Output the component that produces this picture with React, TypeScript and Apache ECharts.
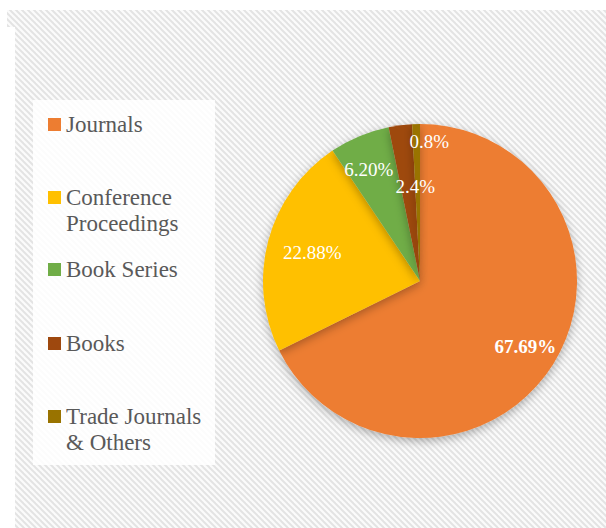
import React, { useEffect, useRef } from "react";
import * as echarts from "echarts";

const categories = ["Journals", "Conference Proceedings", "Book Series", "Books", "Trade Journals & Others"];
const legendTexts = ["Journals", "\nConference\nProceedings", "Book Series", "Books", "\nTrade Journals\n& Others"];
const values = [67.69, 22.88, 6.2, 2.4, 0.8];
const labelTexts = ["67.69%", "22.88%", "6.20%", "2.4%", "0.8%"];
const colors = ["#ED7D31", "#FFC000", "#70AD47", "#9E480E", "#997300"];
const labelRadius = [0.79, 0.71, 0.78, 0.6, 0.89];
const labelAngleShift = [0, 0, -2, 4.3, 5.2];
const labelBold = [true, false, false, false, false];
const legendIconTops = [118, 191, 263, 337, 410];

const CX = 420;
const CY = 281;
const R = 157;
const FONT = "Liberation Serif, DejaVu Serif, serif";

function makePattern(): string {
  const c = document.createElement("canvas");
  const s = 6;
  c.width = s;
  c.height = s;
  const ctx = c.getContext("2d")!;
  ctx.fillStyle = "#fbfbfb";
  ctx.fillRect(0, 0, s, s);
  ctx.strokeStyle = "#e3e3e3";
  ctx.lineWidth = 2;
  for (const off of [-s, 0, s]) {
    ctx.beginPath();
    ctx.moveTo(-1 + off, -1);
    ctx.lineTo(s + 1 + off, s + 1);
    ctx.stroke();
  }
  return c.toDataURL();
}

export default function App() {
  const ref = useRef<HTMLDivElement>(null);
  useEffect(() => {
    if (!ref.current) return;
    const chart = echarts.init(ref.current, undefined, { renderer: "svg" });
    const pattern = makePattern();
    const total = values.reduce((a, b) => a + b, 0);
    let acc = 0;
    const mids = values.map((v) => {
      const m = ((acc + v / 2) / total) * 360;
      acc += v;
      return m;
    });

    const legends = categories.map((name, i) => {
      const lines = legendTexts[i].split("\n").length;
      const top = legendIconTops[i] + 6.5 - (lines * 26) / 2;
      return {
        data: [name],
        orient: "vertical" as const,
        left: 48,
        top,
        padding: 0,
        icon: "rect",
        itemWidth: 13,
        itemHeight: 13,
        selectedMode: false,
        formatter: () => legendTexts[i],
        textStyle: {
          fontFamily: FONT,
          fontSize: 23,
          lineHeight: 26,
          color: "#595959",
        },
      };
    });

    chart.setOption({
      animation: false,
      color: colors,
      graphic: [
        {
          type: "rect",
          z: -10,
          silent: true,
          shape: { x: 15, y: 10, width: 591, height: 518 },
          style: { fill: { image: pattern, repeat: "repeat" } as any },
        },
        {
          type: "rect",
          z: -10,
          silent: true,
          shape: { x: 7, y: 10, width: 8, height: 17 },
          style: { fill: { image: pattern, repeat: "repeat" } as any },
        },
        {
          type: "rect",
          z: -9,
          silent: true,
          shape: { x: 33, y: 100, width: 182, height: 365 },
          style: { fill: "rgba(255,255,255,0.88)" },
        },
      ],
      legend: legends,
      series: [
        {
          type: "pie",
          center: [CX, CY],
          radius: R,
          startAngle: 90,
          clockwise: true,
          silent: true,
          itemStyle: {
            shadowBlur: 10,
            shadowOffsetY: 3,
            shadowColor: "rgba(0,0,0,0.3)",
          },
          label: {
            show: true,
            position: "inside",
            color: "#ffffff",
            fontFamily: FONT,
            fontSize: 19,
          },
          labelLine: { show: false },
          labelLayout: (p: any) => {
            const i = p.dataIndex;
            const a = ((mids[i] + labelAngleShift[i]) * Math.PI) / 180;
            const r = R * labelRadius[i];
            return {
              x: CX + r * Math.sin(a),
              y: CY - r * Math.cos(a),
              align: "center",
              verticalAlign: "middle",
            };
          },
          data: categories.map((name, i) => ({
            name,
            value: values[i],
            label: {
              formatter: labelTexts[i],
              fontWeight: labelBold[i] ? "bold" : "normal",
            },
          })),
        },
      ],
    });
    return () => chart.dispose();
  }, []);
  return (
    <div
      ref={ref}
      style={{ position: "absolute", left: 0, top: 0, width: 606, height: 528, background: "#ffffff" }}
    />
  );
}
